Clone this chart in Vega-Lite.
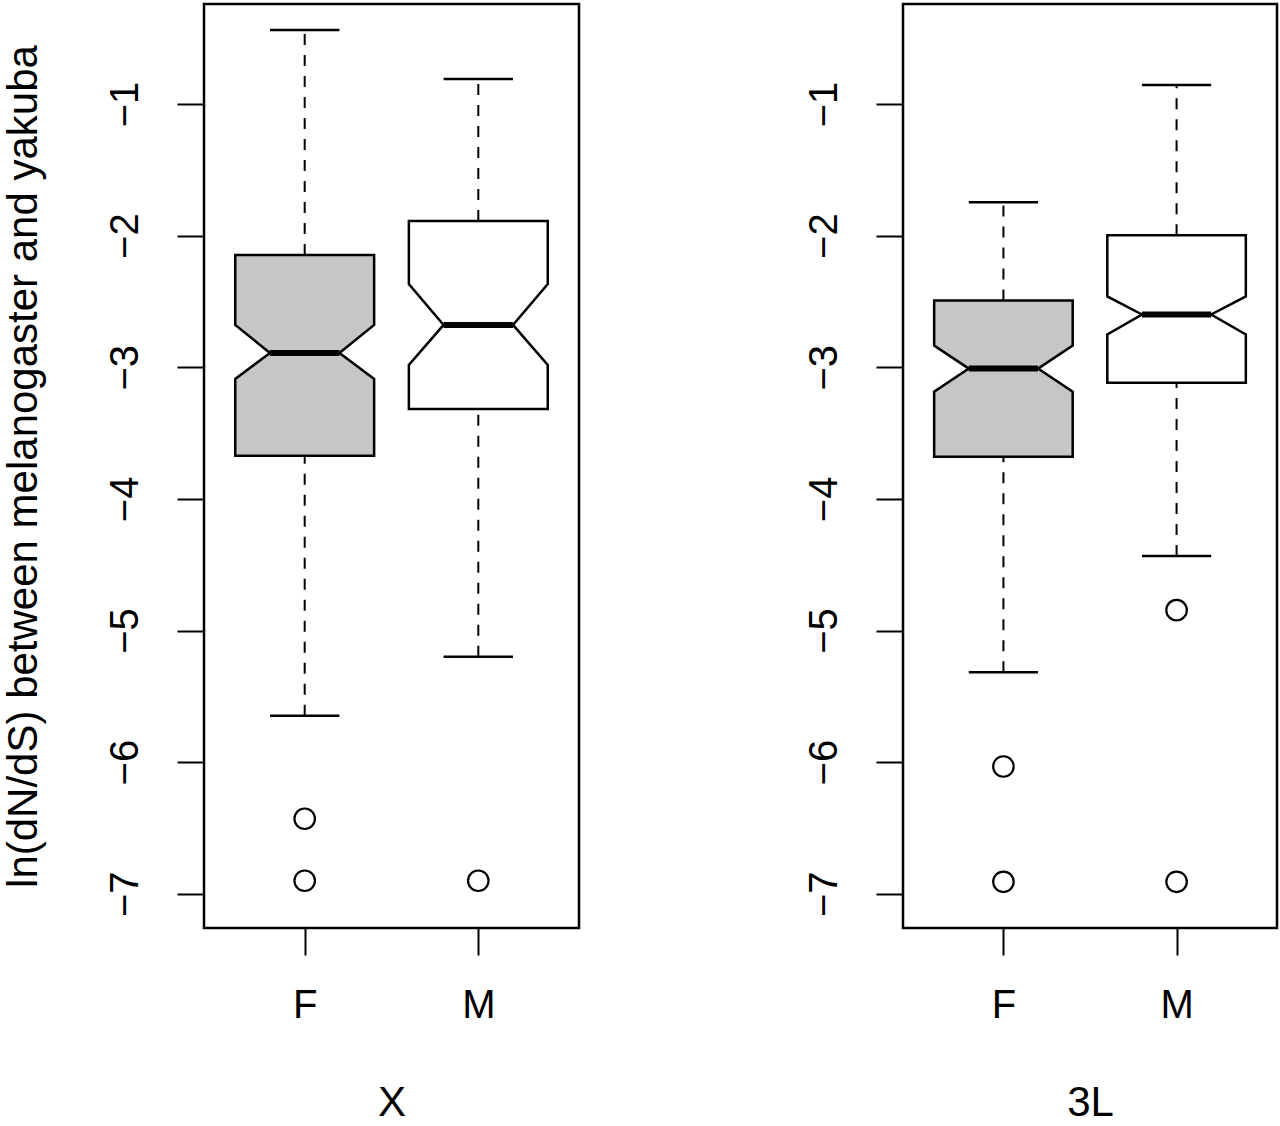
{
  "$schema": "https://vega.github.io/schema/vega-lite/v6.json",
  "padding": {"left": 0, "top": 2, "right": 2, "bottom": 0},
  "background": "white",
  "datasets": {
    "stats": [
      {"kind": "box", "panel": "X", "sex": "F", "lo": -5.648, "q1": -3.673, "nlo": -3.089, "med": -2.891, "nhi": -2.678, "q3": -2.147, "hi": -0.438},
      {"kind": "box", "panel": "X", "sex": "M", "lo": -5.2, "q1": -3.316, "nlo": -2.982, "med": -2.678, "nhi": -2.367, "q3": -1.889, "hi": -0.81},
      {"kind": "box", "panel": "3L", "sex": "F", "lo": -5.317, "q1": -3.68, "nlo": -3.185, "med": -3.01, "nhi": -2.835, "q3": -2.492, "hi": -1.746},
      {"kind": "box", "panel": "3L", "sex": "M", "lo": -4.434, "q1": -3.117, "nlo": -2.751, "med": -2.599, "nhi": -2.462, "q3": -1.997, "hi": -0.855},
      {"kind": "out", "panel": "X", "sex": "F", "value": -6.43},
      {"kind": "out", "panel": "X", "sex": "F", "value": -6.901},
      {"kind": "out", "panel": "X", "sex": "M", "value": -6.901},
      {"kind": "out", "panel": "3L", "sex": "F", "value": -6.033},
      {"kind": "out", "panel": "3L", "sex": "F", "value": -6.909},
      {"kind": "out", "panel": "3L", "sex": "M", "value": -4.845},
      {"kind": "out", "panel": "3L", "sex": "M", "value": -6.909}
    ]
  },
  "data": {"name": "stats"},
  "transform": [
    {"calculate": "indexof(['F', 'M'], datum.sex) + 1", "as": "pos"},
    {"calculate": "datum.pos - 0.2", "as": "capl"},
    {"calculate": "datum.pos + 0.2", "as": "capr"}
  ],
  "hconcat": [
    {
      "width": 375,
      "height": 924,
      "transform": [{"filter": "datum.panel == 'X'"}],
      "encoding": {
        "x": {
          "type": "quantitative",
          "scale": {"domain": [0.42, 2.58], "nice": false, "zero": false},
          "title": "X",
          "axis": {"values": [1, 2], "labelExpr": "datum.value == 1 ? 'F' : 'M'"}
        },
        "y": {
          "type": "quantitative",
          "scale": {"domain": [-7.26, -0.24], "nice": false, "zero": false},
          "title": "ln(dN/dS) between melanogaster and yakuba",
          "axis": {"values": [-7, -6, -5, -4, -3, -2, -1], "labelExpr": "'\u2212' + abs(datum.value)"}
        }
      },
      "layer": [
        {
          "transform": [{"filter": "datum.kind == 'box'"}],
          "mark": {"type": "rule", "strokeDash": [11, 10], "strokeWidth": 2, "color": "black"},
          "encoding": {"x": {"field": "pos"}, "y": {"field": "q3"}, "y2": {"field": "hi"}}
        },
        {
          "transform": [{"filter": "datum.kind == 'box'"}],
          "mark": {"type": "rule", "strokeDash": [11, 10], "strokeWidth": 2, "color": "black"},
          "encoding": {"x": {"field": "pos"}, "y": {"field": "lo"}, "y2": {"field": "q1"}}
        },
        {
          "transform": [{"filter": "datum.kind == 'box'"}],
          "mark": {"type": "rule", "strokeWidth": 2.5, "color": "black"},
          "encoding": {"x": {"field": "capl"}, "x2": {"field": "capr"}, "y": {"field": "hi"}}
        },
        {
          "transform": [{"filter": "datum.kind == 'box'"}],
          "mark": {"type": "rule", "strokeWidth": 2.5, "color": "black"},
          "encoding": {"x": {"field": "capl"}, "x2": {"field": "capr"}, "y": {"field": "lo"}}
        },
        {
          "transform": [
            {"filter": "datum.kind == 'box'"},
            {"fold": ["q1", "nlo", "med", "nhi", "q3"], "as": ["stat", "v"]},
            {"calculate": "datum.pos - (datum.stat == 'med' ? 0.2 : 0.4)", "as": "xl"},
            {"calculate": "datum.pos + (datum.stat == 'med' ? 0.2 : 0.4)", "as": "xr"}
          ],
          "mark": {"type": "area", "orient": "horizontal", "stroke": "black", "strokeWidth": 2.5, "strokeJoin": "miter", "fillOpacity": 1},
          "encoding": {
            "x": {"field": "xl"},
            "x2": {"field": "xr"},
            "y": {"field": "v"},
            "fill": {"field": "sex", "type": "nominal", "scale": {"domain": ["F", "M"], "range": ["#c6c6c6", "#ffffff"]}, "legend": null}
          }
        },
        {
          "transform": [{"filter": "datum.kind == 'box'"}],
          "mark": {"type": "rule", "strokeWidth": 6, "color": "black"},
          "encoding": {"x": {"field": "capl"}, "x2": {"field": "capr"}, "y": {"field": "med"}}
        },
        {
          "transform": [{"filter": "datum.kind == 'out'"}],
          "mark": {"type": "point", "shape": "circle", "filled": false, "size": 420, "strokeWidth": 2.2, "color": "black", "opacity": 1},
          "encoding": {"x": {"field": "pos"}, "y": {"field": "value"}}
        }
      ]
    },
    {
      "width": 374,
      "height": 924,
      "transform": [{"filter": "datum.panel == '3L'"}],
      "encoding": {
        "x": {
          "type": "quantitative",
          "scale": {"domain": [0.42, 2.58], "nice": false, "zero": false},
          "title": "3L",
          "axis": {"values": [1, 2], "labelExpr": "datum.value == 1 ? 'F' : 'M'"}
        },
        "y": {
          "type": "quantitative",
          "scale": {"domain": [-7.26, -0.24], "nice": false, "zero": false},
          "title": null,
          "axis": {"values": [-7, -6, -5, -4, -3, -2, -1], "labelExpr": "'\u2212' + abs(datum.value)"}
        }
      },
      "layer": [
        {
          "transform": [{"filter": "datum.kind == 'box'"}],
          "mark": {"type": "rule", "strokeDash": [11, 10], "strokeWidth": 2, "color": "black"},
          "encoding": {"x": {"field": "pos"}, "y": {"field": "q3"}, "y2": {"field": "hi"}}
        },
        {
          "transform": [{"filter": "datum.kind == 'box'"}],
          "mark": {"type": "rule", "strokeDash": [11, 10], "strokeWidth": 2, "color": "black"},
          "encoding": {"x": {"field": "pos"}, "y": {"field": "lo"}, "y2": {"field": "q1"}}
        },
        {
          "transform": [{"filter": "datum.kind == 'box'"}],
          "mark": {"type": "rule", "strokeWidth": 2.5, "color": "black"},
          "encoding": {"x": {"field": "capl"}, "x2": {"field": "capr"}, "y": {"field": "hi"}}
        },
        {
          "transform": [{"filter": "datum.kind == 'box'"}],
          "mark": {"type": "rule", "strokeWidth": 2.5, "color": "black"},
          "encoding": {"x": {"field": "capl"}, "x2": {"field": "capr"}, "y": {"field": "lo"}}
        },
        {
          "transform": [
            {"filter": "datum.kind == 'box'"},
            {"fold": ["q1", "nlo", "med", "nhi", "q3"], "as": ["stat", "v"]},
            {"calculate": "datum.pos - (datum.stat == 'med' ? 0.2 : 0.4)", "as": "xl"},
            {"calculate": "datum.pos + (datum.stat == 'med' ? 0.2 : 0.4)", "as": "xr"}
          ],
          "mark": {"type": "area", "orient": "horizontal", "stroke": "black", "strokeWidth": 2.5, "strokeJoin": "miter", "fillOpacity": 1},
          "encoding": {
            "x": {"field": "xl"},
            "x2": {"field": "xr"},
            "y": {"field": "v"},
            "fill": {"field": "sex", "type": "nominal", "scale": {"domain": ["F", "M"], "range": ["#c6c6c6", "#ffffff"]}, "legend": null}
          }
        },
        {
          "transform": [{"filter": "datum.kind == 'box'"}],
          "mark": {"type": "rule", "strokeWidth": 6, "color": "black"},
          "encoding": {"x": {"field": "capl"}, "x2": {"field": "capr"}, "y": {"field": "med"}}
        },
        {
          "transform": [{"filter": "datum.kind == 'out'"}],
          "mark": {"type": "point", "shape": "circle", "filled": false, "size": 420, "strokeWidth": 2.2, "color": "black", "opacity": 1},
          "encoding": {"x": {"field": "pos"}, "y": {"field": "value"}}
        }
      ]
    }
  ],
  "config": {
    "font": "Liberation Sans",
    "concat": {"spacing": 221},
    "view": {"stroke": "black", "strokeWidth": 2.5},
    "axis": {
      "domain": false,
      "grid": false,
      "ticks": true,
      "tickColor": "black",
      "tickWidth": 2,
      "tickSize": 27,
      "labelFont": "Liberation Sans",
      "labelFontSize": 40,
      "labelColor": "black",
      "titleFont": "Liberation Sans",
      "titleFontSize": 42,
      "titleFontWeight": "normal",
      "titleColor": "black"
    },
    "axisY": {
      "labelAngle": 270,
      "labelAlign": "center",
      "labelBaseline": "bottom",
      "labelPadding": 32,
      "titlePadding": 60
    },
    "axisX": {
      "labelAngle": 0,
      "labelPadding": 30,
      "titlePadding": 57
    }
  }
}
